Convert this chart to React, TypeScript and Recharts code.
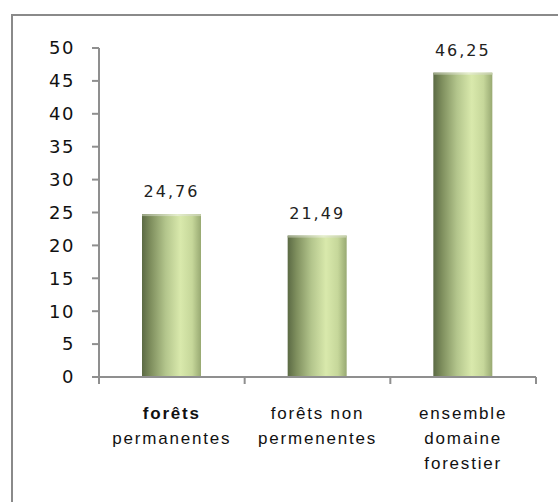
import { BarChart, Bar, XAxis, YAxis, LabelList } from 'recharts';

const categories = ['forêts\npermanentes', 'forêts non\npermenentes', 'ensemble\ndomaine\nforestier'];
const surfaces = [24.76, 21.49, 46.25];
const yTicks = [0, 5, 10, 15, 20, 25, 30, 35, 40, 45, 50];

const data = categories.map((name, i) => ({ name, value: surfaces[i] }));

const axisColor = '#8f8f8f';

function CategoryTick(props: any) {
  const { x, y, payload, index } = props;
  const half = payload?.offset ?? 0;
  const lines = String(payload.value).split('\n');
  return (
    <g>
      <line x1={x - half} y1={y - 8} x2={x - half} y2={y - 1} stroke={axisColor} strokeWidth={2} />
      {index === categories.length - 1 && (
        <line x1={x + half} y1={y - 8} x2={x + half} y2={y - 1} stroke={axisColor} strokeWidth={2} />
      )}
      <text
        x={x}
        y={y + 34}
        textAnchor="middle"
        fontFamily="'Liberation Sans', Arial, sans-serif"
        fontSize={17}
        fill="#111"
        letterSpacing={1.8}
      >
        {lines.map((l, i) => (
          <tspan key={i} x={x} dy={i === 0 ? 0 : 25} fontWeight={i === 0 && index === 0 ? 700 : 400}>
            {l}
          </tspan>
        ))}
      </text>
    </g>
  );
}

function CylinderBar(props: any) {
  const { x, y, width, height } = props;
  if (!height || height <= 0) return null;
  return (
    <g>
      <rect x={x} y={y} width={width} height={height} fill="url(#barGrad)" />
      <rect x={x} y={y} width={width} height={2} fill="url(#barTop)" />
    </g>
  );
}

export default function App() {
  return (
    <div style={{ position: 'absolute', left: 0, top: 0, width: 558, height: 503, background: '#fff', overflow: 'hidden' }}>
      <div
        style={{
          position: 'absolute',
          left: 11,
          top: 14,
          width: 600,
          height: 486,
          borderTop: '2px solid #8a8a8a',
          borderLeft: '2px solid #8a8a8a',
        }}
      />
      <div style={{ position: 'absolute', left: 0, top: 0 }}>
        <BarChart
          width={558}
          height={503}
          data={data}
          margin={{ top: 48, right: 22, left: 0, bottom: 96 }}
          barSize={59}
        >
          <defs>
            <linearGradient id="barGrad" x1="0" y1="0" x2="1" y2="0">
              <stop offset="0%" stopColor="#5b6a44" />
              <stop offset="15%" stopColor="#7f8f5e" />
              <stop offset="40%" stopColor="#b3c58c" />
              <stop offset="65%" stopColor="#d9e9ac" />
              <stop offset="85%" stopColor="#c6d79a" />
              <stop offset="100%" stopColor="#98a972" />
            </linearGradient>
            <linearGradient id="barTop" x1="0" y1="0" x2="1" y2="0">
              <stop offset="0%" stopColor="#9aa585" />
              <stop offset="60%" stopColor="#e4edcc" />
              <stop offset="100%" stopColor="#c3cda8" />
            </linearGradient>
          </defs>
          <XAxis
            dataKey="name"
            interval={0}
            height={30}
            tickLine={false}
            axisLine={{ stroke: axisColor, strokeWidth: 2 }}
            tick={<CategoryTick />}
          />
          <YAxis
            width={99}
            domain={[0, 50]}
            ticks={yTicks}
            interval={0}
            tickSize={7}
            tickMargin={17}
            axisLine={{ stroke: axisColor, strokeWidth: 2 }}
            tickLine={{ stroke: axisColor, strokeWidth: 2 }}
            tick={{ fill: '#111', fontSize: 18, fontFamily: "'DejaVu Sans', Verdana, sans-serif", letterSpacing: 1.5 }}
          />
          <Bar dataKey="value" isAnimationActive={false} shape={<CylinderBar />}>
            <LabelList
              dataKey="value"
              position="top"
              offset={17}
              formatter={(v: any) => Number(v).toFixed(2).replace('.', ',')}
              style={{ fill: '#222', fontSize: 16, fontFamily: "'DejaVu Sans', Verdana, sans-serif", letterSpacing: 2 }}
            />
          </Bar>
        </BarChart>
      </div>
    </div>
  );
}
